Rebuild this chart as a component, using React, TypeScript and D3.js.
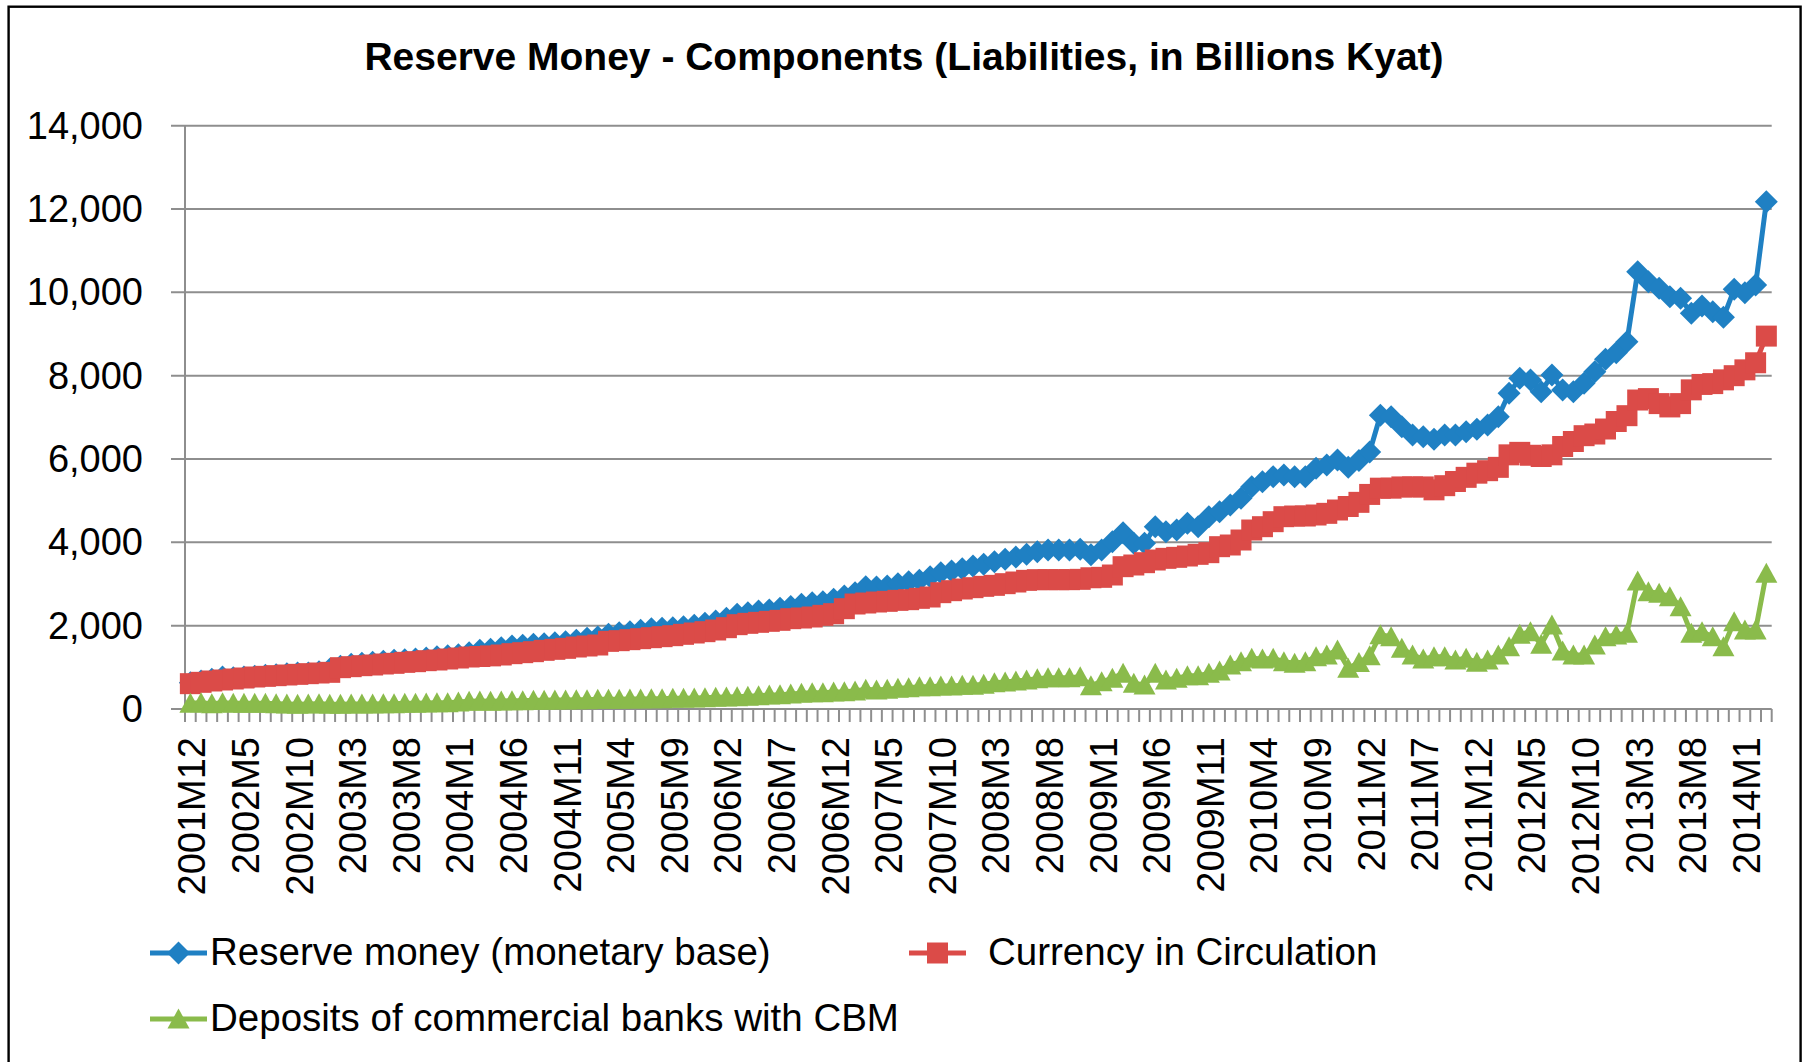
import React from "react";
import * as d3 from "d3";

const WIDTH = 1803;
const HEIGHT = 1062;
const MARGIN = { top: 125.7, right: 31.3, bottom: 353, left: 185 };

const TITLE = "Reserve Money - Components (Liabilities, in Billions Kyat)";

// monthly, 2001M12 .. 2014M3
const categories: string[] = d3.range(148).map((i) => {
  const m = 11 + i;
  return `${2001 + Math.floor(m / 12)}M${(m % 12) + 1}`;
});

const tickLabels = [
  "2001M12", "2002M5", "2002M10", "2003M3", "2003M8", "2004M1", "2004M6", "2004M11",
  "2005M4", "2005M9", "2006M2", "2006M7", "2006M12", "2007M5", "2007M10", "2008M3",
  "2008M8", "2009M1", "2009M6", "2009M11", "2010M4", "2010M9", "2011M2", "2011M7",
  "2011M12", "2012M5", "2012M10", "2013M3", "2013M8", "2014M1",
];

const yTicks = [0, 2000, 4000, 6000, 8000, 10000, 12000, 14000];

const reserveMoney = [
  632, 672, 712, 768, 752, 768, 784, 808, 824, 848, 864, 864, 896, 952, 1024, 1072, 1096, 1120, 1144, 1168,
  1184, 1200, 1224, 1256, 1280, 1304, 1352, 1408, 1432,
  1472, 1512, 1528, 1552, 1568, 1592, 1616, 1648, 1696, 1728, 1792, 1832, 1856, 1888, 1928, 1936, 1952, 1976, 2008, 2056,
  2112, 2176, 2272, 2312, 2352, 2376, 2416, 2460,
  2512, 2552, 2576, 2632, 2712, 2792, 2936, 2928, 2952, 3008, 3056, 3088, 3176, 3272, 3312, 3368, 3432, 3472, 3536, 3592,
  3648, 3712, 3776, 3816, 3816, 3816, 3832, 3700,
  3816, 4016, 4232, 3976, 3976, 4376, 4256, 4296, 4456, 4376, 4616, 4736, 4896, 5056, 5336, 5456, 5576, 5616, 5576, 5576,
  5776, 5856, 5976,
  5800, 5966, 6170, 7050, 7016, 6776, 6576, 6536, 6472, 6576, 6576, 6656, 6712, 6816, 7016, 7576, 7936, 7896, 7616, 8016,
  7656, 7616, 7816, 8096, 8392, 8552, 8816, 10496, 10256, 10096, 9896, 9856, 9496, 9672, 9536, 9400, 10072, 9992, 10176, 12176,
];

const currency = [
  608, 640, 672, 696, 720, 744, 768, 784, 800, 816, 832, 848, 864, 880, 992, 1016, 1040, 1056, 1080, 1096,
  1120, 1136, 1160, 1176, 1200, 1224, 1248, 1260, 1275,
  1296, 1328, 1352, 1376, 1408, 1432, 1456, 1488, 1512, 1536, 1624, 1640, 1664, 1688, 1712, 1736, 1760, 1792, 1824, 1856,
  1896, 1952, 2024, 2056, 2080, 2104, 2128, 2168,
  2184, 2208, 2248, 2288, 2408, 2520, 2544, 2568, 2584, 2608, 2624, 2656, 2688, 2792, 2840, 2880, 2912, 2944, 2968, 3008,
  3048, 3088, 3104, 3104, 3104, 3104, 3112, 3150,
  3160, 3216, 3416, 3456, 3512, 3576, 3616, 3640, 3672, 3712, 3752, 3896, 3936, 4056, 4296, 4376, 4496, 4616, 4632, 4632,
  4656, 4696, 4776,
  4860, 4960, 5150, 5300, 5300, 5330, 5330, 5330, 5260, 5360, 5460, 5560, 5660, 5720, 5800, 6100, 6160, 6090, 6060, 6100,
  6300, 6420, 6560, 6600, 6720, 6900, 7040, 7416, 7450, 7330, 7250, 7330, 7660, 7790, 7810, 7900, 8000, 8140, 8310, 8950,
];

const deposits = [
  136, 152, 128, 152, 136, 136, 136, 136, 128, 120, 112, 120, 128, 112, 112, 120, 120, 120, 128, 128,
  136, 136, 144, 152, 152, 168, 184, 192, 184,
  192, 200, 200, 208, 208, 216, 216, 224, 224, 232, 232, 232, 240, 240, 248, 248, 256, 256, 264, 272,
  280, 288, 296, 304, 320, 336, 340, 360,
  376, 392, 392, 408, 416, 432, 472, 456, 472, 496, 512, 536, 536, 552, 552, 568, 568, 592, 632, 648,
  672, 696, 728, 752, 752, 752, 776, 560,
  656, 736, 856, 616, 576, 856, 696, 736, 800, 800, 856, 912, 1056, 1136, 1216, 1200, 1216, 1136, 1096, 1136,
  1256, 1296, 1416,
  976, 1116, 1276, 1784, 1736, 1456, 1296, 1200, 1256, 1256, 1176, 1216, 1120, 1176, 1296, 1496, 1792, 1856, 1552, 2016,
  1392, 1296, 1296, 1536, 1736, 1776, 1816, 3072, 2816, 2776, 2696, 2456, 1816, 1856, 1736, 1496, 2096, 1896, 1896, 3256,
];

const FONT = "'Liberation Sans', Arial, sans-serif";
const GRID = "#8E8E8E";

const MARKERS = {
  diamond: "M0,-11.5L11.5,0L0,11.5L-11.5,0Z",
  square: "M-10.5,-10.5H10.5V10.5H-10.5Z",
  triangle: "M0,-10.5L11,9.5L-11,9.5Z",
};

const series = [
  { name: "Reserve money (monetary base)", values: reserveMoney, color: "#1F80C3", marker: MARKERS.diamond },
  { name: "Currency in Circulation", values: currency, color: "#DB4B48", marker: MARKERS.square },
  { name: "Deposits of commercial banks with CBM", values: deposits, color: "#8ABB4B", marker: MARKERS.triangle },
];

const legendPos = [
  { x: 150, y: 953 },
  { x: 909, y: 953 },
  { x: 150, y: 1019 },
];

export default function App() {
  const x = d3
    .scaleBand<string>()
    .domain(categories)
    .range([MARGIN.left, WIDTH - MARGIN.right])
    .padding(0);
  const y = d3
    .scaleLinear()
    .domain([0, 14000])
    .range([HEIGHT - MARGIN.bottom, MARGIN.top]);
  const cx = (c: string) => (x(c) as number) + x.bandwidth() / 2;
  const fmt = d3.format(",");

  const line = d3
    .line<number>()
    .x((_, i) => cx(categories[i]))
    .y((d) => y(d));

  const x0 = MARGIN.left;
  const x1 = WIDTH - MARGIN.right;
  const yBase = y(0);

  return (
    <svg
      width={WIDTH}
      height={HEIGHT}
      style={{ position: "absolute", left: 0, top: 0, background: "#fff" }}
      fontFamily={FONT}
    >
      <rect x={8.6} y={6.7} width={1792} height={1100} fill="#fff" stroke="#000" strokeWidth={2.4} />

      <text x={904} y={70} textAnchor="middle" fontSize={39} fontWeight="bold" fill="#000">
        {TITLE}
      </text>

      {/* gridlines + y axis */}
      {yTicks.map((t) => (
        <g key={t}>
          <line x1={x0 - 14} x2={x1} y1={y(t)} y2={y(t)} stroke={GRID} strokeWidth={2} />
          <text x={143} y={y(t)} textAnchor="end" dominantBaseline="central" fontSize={38} fill="#000">
            {fmt(t)}
          </text>
        </g>
      ))}
      <line x1={x0} x2={x0} y1={y(14000)} y2={yBase + 13} stroke={GRID} strokeWidth={2} />

      {/* x axis ticks */}
      {d3.range(categories.length + 1).map((k) => {
        const px = x0 + k * x.bandwidth();
        return <line key={k} x1={px} x2={px} y1={yBase} y2={yBase + 13} stroke={GRID} strokeWidth={2} />;
      })}
      {tickLabels.map((lab) => (
        <text
          key={lab}
          transform={`translate(${cx(lab) + 2},737) rotate(-90)`}
          textAnchor="end"
          dominantBaseline="central"
          fontSize={38}
          fill="#000"
        >
          {lab}
        </text>
      ))}

      {/* series */}
      {series.map((s) => (
        <g key={s.name}>
          <path d={line(s.values) || ""} fill="none" stroke={s.color} strokeWidth={5} strokeLinejoin="round" />
          {s.values.map((v, i) => (
            <path key={i} d={s.marker} transform={`translate(${cx(categories[i])},${y(v)})`} fill={s.color} />
          ))}
        </g>
      ))}

      {/* legend */}
      {series.map((s, i) => {
        const p = legendPos[i];
        return (
          <g key={s.name}>
            <line x1={p.x} x2={p.x + 57} y1={p.y} y2={p.y} stroke={s.color} strokeWidth={5} />
            <path d={s.marker} transform={`translate(${p.x + 28.5},${p.y})`} fill={s.color} />
            <text x={i === 1 ? p.x + 79 : p.x + 60} y={p.y + 12} fontSize={38.5} fill="#000">
              {s.name}
            </text>
          </g>
        );
      })}
    </svg>
  );
}
